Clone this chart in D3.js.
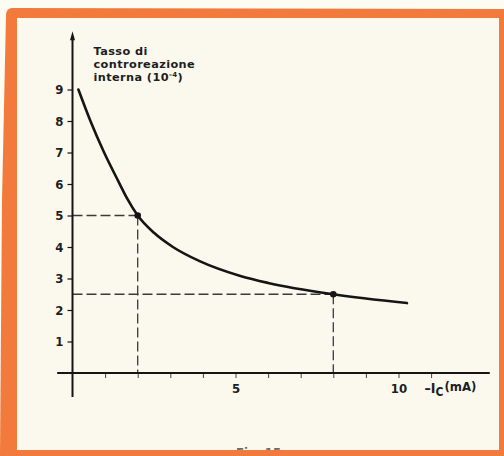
<!DOCTYPE html>
<html>
<head>
<meta charset="utf-8">
<script src="https://cdn.jsdelivr.net/npm/d3@7"></script>
<style>
  html, body { margin: 0; padding: 0; background: #fcfbf2; }
  svg { display: block; }
  text { font-family: "DejaVu Sans Condensed", "DejaVu Sans", sans-serif; font-weight: bold; fill: #1e1e1e; }
</style>
</head>
<body>
<svg id="chart" width="504" height="456"></svg>
<script>
// Internal feedback rate (10^-4) against collector current -Ic (mA)
const curveIc   = [0.18, 0.55, 0.97, 1.4, 1.67, 2.0, 2.5,  3.08, 3.9,  5.15, 6.0,  8.0, 10.26];
const curveRate = [9.0,  8.0,  7.0,  6.1, 5.55, 5.0, 4.45, 4.0,  3.55, 3.08, 2.86, 2.5, 2.22];

// Marked operating points with their dashed reference lines
const markedIc   = [2, 8];
const markedRate = [5, 2.5];

const yTicks = [1, 2, 3, 4, 5, 6, 7, 8, 9];
const xTicks = [1, 2, 3, 4, 5, 6, 7, 8, 9, 10, 11];
const xTickLabels = ["5", "10"];
const titleLines = ["Tasso di", "controreazione", "interna (10", "-4", ")"];

const W = 504, H = 456;
const svg = d3.select("#chart");

// Orange mounting frame around the cream page
const orange = "#f37a3d";
svg.append("rect").attr("x", 0).attr("y", 0).attr("width", W).attr("height", H).attr("fill", "#fdfcf3");
svg.append("path")
  .attr("d", "M12,8 L504,9 L504,456 L0,456 L2,200 L6,14 Q7,8 12,8 Z")
  .attr("fill", orange);
svg.append("rect").attr("x", 17).attr("y", 18).attr("width", 482).attr("height", 432).attr("fill", "#fbf9ee");

const x = d3.scaleLinear().domain([0, 10]).range([72.5, 398.5]);
const y = d3.scaleLinear().domain([0, 9]).range([373, 89.5]);

const ink = "#151515";

// Caption peeking above the lower frame edge
svg.append("text").attr("x", x(5) + 23).attr("y", 457).attr("text-anchor", "middle")
  .attr("font-size", 13).style("fill", "#6a6a6a").text("Fig. 15");
svg.append("rect").attr("x", 0).attr("y", 450).attr("width", W).attr("height", 6).attr("fill", orange);

// Dashed guides to the marked points
const guides = svg.append("g").attr("stroke", "#3a3a3a").attr("stroke-width", 1.3)
  .attr("stroke-dasharray", "10,4").attr("fill", "none");
markedIc.forEach((ic, i) => {
  guides.append("line").attr("x1", x(0)).attr("x2", x(ic))
    .attr("y1", y(markedRate[i])).attr("y2", y(markedRate[i]));
  guides.append("line").attr("x1", x(ic)).attr("x2", x(ic))
    .attr("y1", y(markedRate[i])).attr("y2", y(0));
});

// Axes lines
svg.append("line").attr("x1", x(-0.47)).attr("x2", x(12.8)).attr("y1", y(0)).attr("y2", y(0))
  .attr("stroke", ink).attr("stroke-width", 1.8);
svg.append("line").attr("x1", x(0)).attr("x2", x(0)).attr("y1", y(-0.76)).attr("y2", y(10.6))
  .attr("stroke", ink).attr("stroke-width", 2);
svg.append("path")
  .attr("d", `M${x(0)},${y(10.85)} l-2.5,9 l5,0 Z`).attr("fill", ink);

// Y axis ticks and labels
const yAxis = d3.axisLeft(y).tickValues(yTicks).tickSize(5).tickPadding(4).tickFormat(d3.format("d"));
const gy = svg.append("g").attr("transform", `translate(${x(0)},0)`).call(yAxis);
gy.select(".domain").remove();
gy.selectAll(".tick line").attr("stroke", ink).attr("stroke-width", 1.2);
gy.selectAll(".tick text").attr("font-size", 13).attr("font-family", null).style("fill", "#1e1e1e");

// X axis ticks (only 5 and 10 labelled)
const xAxis = d3.axisBottom(x).tickValues(xTicks).tickSize(4).tickPadding(6)
  .tickFormat(d => xTickLabels.includes(String(d)) ? String(d) : "");
const gx = svg.append("g").attr("transform", `translate(0,${y(0) + 1})`).call(xAxis);
gx.select(".domain").remove();
gx.selectAll(".tick line").attr("stroke", "#444").attr("stroke-width", 1);
gx.selectAll(".tick text").attr("font-size", 13).attr("font-family", null).style("fill", "#1e1e1e");

// X axis title: -I_C (mA)
const xt = svg.append("text").attr("x", x(10.8)).attr("y", y(0) + 20).attr("font-size", 14);
xt.append("tspan").text("–I");
xt.append("tspan").attr("font-size", 12).attr("dy", 3).text("C");
xt.append("tspan").attr("font-size", 13).attr("dy", -5).attr("dx", 1).text("(mA)");

// Y axis title
const tx = x(0) + 21;
const titleStyle = s => s.attr("x", tx).attr("font-size", 11.3).attr("letter-spacing", 0.4)
  .style("font-family", "'DejaVu Sans', sans-serif");
svg.append("text").call(titleStyle).attr("y", 55).text(titleLines[0]);
svg.append("text").call(titleStyle).attr("y", 68).text(titleLines[1]);
const t3 = svg.append("text").call(titleStyle).attr("y", 81);
t3.append("tspan").text(titleLines[2]);
t3.append("tspan").attr("font-size", 7).attr("dy", -4).text(titleLines[3]);
t3.append("tspan").attr("dy", 4).text(titleLines[4]);

// Curve
const line = d3.line().x(d => x(d[0])).y(d => y(d[1])).curve(d3.curveMonotoneX);
svg.append("path")
  .datum(curveIc.map((v, i) => [v, curveRate[i]]))
  .attr("d", line).attr("fill", "none").attr("stroke", ink).attr("stroke-width", 2.6)
  .attr("stroke-linecap", "round");

// Marked points
svg.selectAll("circle.pt").data(markedIc).enter().append("circle")
  .attr("class", "pt").attr("cx", d => x(d)).attr("cy", (d, i) => y(markedRate[i]))
  .attr("r", 3.3).attr("fill", ink);
</script>
</body>
</html>
